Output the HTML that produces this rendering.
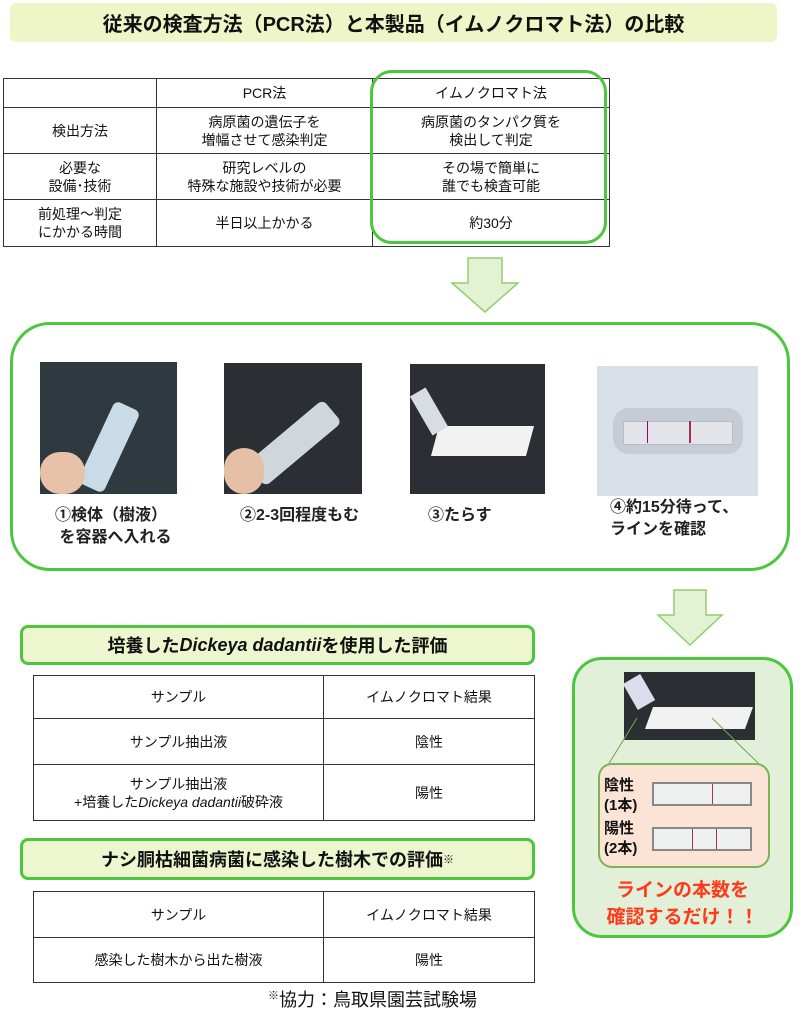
<!DOCTYPE html>
<html><head><meta charset="utf-8"><style>
body{margin:0;width:801px;height:1024px;background:#fff;position:relative;overflow:hidden;font-family:"Liberation Sans","Noto Sans CJK JP",sans-serif;color:#111}
.a{position:absolute}
table{border-collapse:collapse;position:absolute;font-size:14px}
td{border:1px solid #333;text-align:center;line-height:18px;padding:0}
.hdr{position:absolute;background:#eef6cf;border:3px solid #4cc63c;border-radius:8px;font-weight:bold;font-size:18px;display:flex;align-items:center;justify-content:center;box-sizing:border-box}
.ph{position:absolute;background:#2b2f33;overflow:hidden}
.cap{position:absolute;font-size:16px;font-weight:bold;color:#222;line-height:22px}
</style></head><body>
<div class="a" style="left:10px;top:3px;width:767px;height:39px;background:#eef6c8;border-radius:6px;font-weight:bold;font-size:20px;display:flex;align-items:center;justify-content:center">従来の検査方法（PCR法）と本製品（イムノクロマト法）の比較</div>

<table style="left:3px;top:78px;width:607px">
<tr style="height:29px"><td style="width:152px"></td><td style="width:215px">PCR法</td><td>イムノクロマト法</td></tr>
<tr style="height:46px"><td>検出方法</td><td>病原菌の遺伝子を<br>増幅させて感染判定</td><td>病原菌のタンパク質を<br>検出して判定</td></tr>
<tr style="height:46px"><td>必要な<br>設備･技術</td><td>研究レベルの<br>特殊な施設や技術が必要</td><td>その場で簡単に<br>誰でも検査可能</td></tr>
<tr style="height:47px"><td>前処理～判定<br>にかかる時間</td><td>半日以上かかる</td><td>約30分</td></tr>
</table>
<div class="a" style="left:370px;top:70px;width:237px;height:174px;border:3px solid #4cc63c;border-radius:22px;box-sizing:border-box"></div>

<svg class="a" style="left:0;top:0" width="801" height="1024">
<polygon points="468,258 502,258 502,283 518,283 485,312 452,283 468,283" fill="#e4f2d4" stroke="#8fce6e" stroke-width="1.5"/>
<polygon points="674,590 706,590 706,615 722,615 690,645 658,615 674,615" fill="#e4f2d4" stroke="#8fce6e" stroke-width="1.5"/>
</svg>

<div class="a" style="left:10px;top:322px;width:780px;height:249px;border:3px solid #4cc63c;border-radius:40px;box-sizing:border-box"></div>
<div class="ph" style="left:40px;top:362px;width:137px;height:132px;background:#2f3a40">
<div class="a" style="left:55px;top:40px;width:28px;height:90px;background:#c9dbe6;transform:rotate(25deg);border-radius:6px"></div>
<div class="a" style="left:0;top:90px;width:45px;height:42px;background:#e8c2a8;border-radius:20px"></div></div>
<div class="ph" style="left:224px;top:363px;width:138px;height:131px">
<div class="a" style="left:55px;top:30px;width:30px;height:100px;background:#cfd6dc;transform:rotate(50deg);border-radius:6px"></div>
<div class="a" style="left:0;top:85px;width:40px;height:46px;background:#e6c0a6;border-radius:20px"></div></div>
<div class="ph" style="left:410px;top:364px;width:135px;height:130px">
<div class="a" style="left:25px;top:62px;width:95px;height:30px;background:#f2f2f2;transform:skewX(-15deg)"></div>
<div class="a" style="left:10px;top:25px;width:18px;height:45px;background:#d7dde0;transform:rotate(-30deg)"></div></div>
<div class="ph" style="left:597px;top:366px;width:161px;height:130px;background:#d8dfe9">
<div class="a" style="left:16px;top:42px;width:130px;height:46px;background:#c6ccd6;border-radius:16px"></div>
<div class="a" style="left:26px;top:55px;width:108px;height:22px;background:#e2e4ea;border:1px solid #b8bcc6"></div>
<div class="a" style="left:50px;top:55px;width:1px;height:22px;background:#a06"></div>
<div class="a" style="left:92px;top:55px;width:2px;height:22px;background:#a03050"></div></div>
<div class="cap" style="left:55px;top:505px">①検体（樹液）<br>&nbsp;を容器へ入れる</div>
<div class="cap" style="left:240px;top:505px">②2-3回程度もむ</div>
<div class="cap" style="left:428px;top:505px">③たらす</div>
<div class="cap" style="left:610px;top:497px">④約15分待って、<br>ラインを確認</div>

<div class="a" style="left:572px;top:657px;width:221px;height:281px;background:#e2efd9;border:3px solid #4cc63c;border-radius:30px;box-sizing:border-box"></div>
<div class="ph" style="left:624px;top:672px;width:131px;height:68px">
<div class="a" style="left:25px;top:35px;width:100px;height:22px;background:#f2f2f2;transform:skewX(-20deg)"></div>
<div class="a" style="left:5px;top:5px;width:20px;height:30px;background:#dde;transform:rotate(-30deg)"></div></div>
<svg class="a" style="left:0;top:0" width="801" height="1024"><line x1="637" y1="718" x2="608" y2="765" stroke="#6aa84f"/><line x1="712" y1="718" x2="760" y2="765" stroke="#6aa84f"/></svg>
<div class="a" style="left:598px;top:763px;width:172px;height:105px;background:#fbe4d5;border:2px solid #7fb257;border-radius:14px;box-sizing:border-box"></div>
<div class="a" style="left:604px;top:776px;font-weight:bold;font-size:15px;line-height:20px">陰性<br>(1本)</div>
<div class="a" style="left:604px;top:819px;font-weight:bold;font-size:15px;line-height:20px">陽性<br>(2本)</div>
<div class="a" style="left:652px;top:782px;width:100px;height:24px;background:#eef0ef;border:2px solid #888;box-sizing:border-box"><div class="a" style="left:58px;top:0;width:1px;height:20px;background:#a35"></div></div>
<div class="a" style="left:652px;top:827px;width:100px;height:24px;background:#eef0ef;border:2px solid #888;box-sizing:border-box"><div class="a" style="left:38px;top:0;width:1px;height:20px;background:#a35"></div><div class="a" style="left:62px;top:0;width:1px;height:20px;background:#a35"></div></div>
<div class="a" style="left:572px;width:221px;top:877px;text-align:center;color:#ff3a1a;font-weight:bold;font-size:19px;line-height:27px">ラインの本数を<br>確認するだけ！！</div>

<div class="hdr" style="left:20px;top:625px;width:515px;height:40px">培養した<i>Dickeya dadantii</i>を使用した評価</div>
<table style="left:33px;top:675px;width:502px">
<tr style="height:43px"><td style="width:289px">サンプル</td><td>イムノクロマト結果</td></tr>
<tr style="height:46px"><td>サンプル抽出液</td><td>陰性</td></tr>
<tr style="height:56px"><td>サンプル抽出液<br>+培養した<i>Dickeya dadantii</i>破砕液</td><td>陽性</td></tr>
</table>
<div class="hdr" style="left:20px;top:838px;width:515px;height:42px">ナシ胴枯細菌病菌に感染した樹木での評価<sup style="font-size:11px">※</sup></div>
<table style="left:33px;top:891px;width:502px">
<tr style="height:46px"><td style="width:289px">サンプル</td><td>イムノクロマト結果</td></tr>
<tr style="height:45px"><td>感染した樹木から出た樹液</td><td>陽性</td></tr>
</table>
<div class="a" style="left:268px;top:986px;font-size:18px"><sup style="font-size:11px">※</sup>協力：鳥取県園芸試験場</div>
</body></html>
